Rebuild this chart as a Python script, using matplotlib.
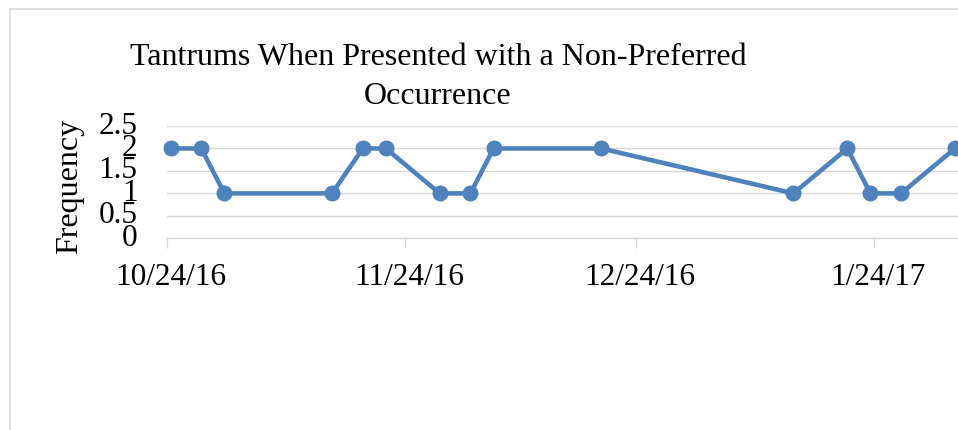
import matplotlib
matplotlib.use("Agg")
import matplotlib.pyplot as plt
from matplotlib.lines import Line2D
import pandas as pd

# session dates and tantrum counts
dates = ["2016-10-24", "2016-10-28", "2016-10-31", "2016-11-14", "2016-11-18",
         "2016-11-21", "2016-11-28", "2016-12-02", "2016-12-05", "2016-12-19",
         "2017-01-13", "2017-01-20", "2017-01-23", "2017-01-27", "2017-02-03"]
frequency = [2, 2, 1, 1, 2, 2, 1, 1, 2, 2, 1, 2, 1, 1, 2]
tick_dates = ["2016-10-24", "2016-11-24", "2016-12-24", "2017-01-24"]
tick_labels = ["10/24/16", "11/24/16", "12/24/16", "1/24/17"]
y_ticks = [0, 0.5, 1, 1.5, 2, 2.5]
y_tick_labels = ["0", "0.5", "1", "1.5", "2", "2.5"]
title_lines = ["Tantrums When Presented with a Non-Preferred", "Occurrence"]

W, H = 958, 430
plt.rcParams["font.family"] = ["Liberation Serif", "DejaVu Serif"]
grey = "#d9d9d9"
blue = "#4f81bd"

fig = plt.figure(figsize=(W / 100, H / 100), dpi=100)

# axes placed in pixel coordinates of the reference
left, right, top, bottom = 166.7, 958.8, 126.0, 238.3
ax = fig.add_axes([left / W, 1 - bottom / H, (right - left) / W, (bottom - top) / H])

# excel draws date points in the middle of the day
half_day = pd.Timedelta(hours=12)
x = pd.to_datetime(dates) + half_day
ax.plot(x, frequency, color=blue, linewidth=3.3, marker="o", markersize=10.5,
        clip_on=False, zorder=3)

ax.set_xlim(pd.Timestamp("2016-10-24"), pd.Timestamp("2017-02-04"))
ax.set_ylim(0, 2.5)

# major ticks at dates (tick marks only), labels at day centres
ticks = pd.to_datetime(tick_dates)
ax.set_xticks(ticks)
ax.set_xticklabels([])
ax.set_xticks(ticks + half_day, minor=True)
ax.set_xticklabels(tick_labels, minor=True, fontsize=22.5)
ax.tick_params(axis="x", which="major", length=7.5, width=1, color=grey, direction="out")
ax.tick_params(axis="x", which="minor", length=0, pad=18)

ax.set_yticks(y_ticks)
ax.set_yticklabels(y_tick_labels, fontsize=22.5)
ax.tick_params(axis="y", length=0, pad=21)
for lab in ax.get_yticklabels():
    lab.set_verticalalignment("center")

ax.grid(axis="y", color=grey, linewidth=1.0)
ax.set_axisbelow(True)
for side in ["top", "right", "left"]:
    ax.spines[side].set_visible(False)
ax.spines["bottom"].set_color(grey)
ax.spines["bottom"].set_linewidth(1.0)

fig.text(70 / W, 1 - 186 / H, "Frequency", rotation=90, fontsize=23,
         ha="center", va="center")

fig.text(438 / W, 1 - 65 / H, title_lines[0], fontsize=23, ha="center", va="baseline")
fig.text(438 / W, 1 - 104 / H, title_lines[1], fontsize=23, ha="center", va="baseline")

# chart area frame (clipped at right and bottom)
fig.add_artist(Line2D([10 / W, 10 / W], [0, 1 - 8.5 / H], color=grey, linewidth=1.2,
                      transform=fig.transFigure))
fig.add_artist(Line2D([10 / W, 1], [1 - 8.5 / H, 1 - 8.5 / H], color=grey, linewidth=1.2,
                      transform=fig.transFigure))

fig.savefig("out.png", dpi=100)
